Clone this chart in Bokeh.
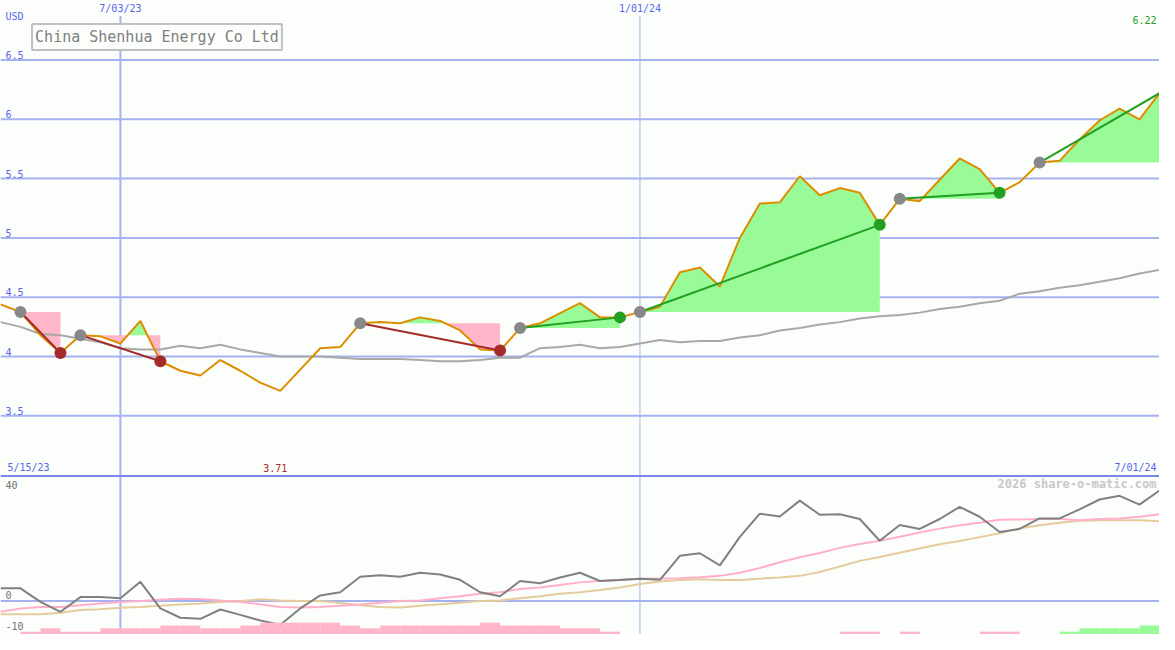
import numpy as np
from bokeh.plotting import figure
from bokeh.models import Range1d, Span, Label, ColumnDataSource
from bokeh.embed import file_html
from bokeh.resources import INLINE

# ---------------- data ----------------
title = "China Shenhua Energy Co Ltd"
currency = "USD"
first_week = "2023-05-22"
n_weeks = 59

price = [4.44, 4.375, 4.18, 4.03, 4.18, 4.17, 4.11, 4.30, 3.96, 3.88,
         3.84, 3.97, 3.88, 3.78, 3.71, 3.89, 4.07, 4.08, 4.28, 4.29,
         4.28, 4.33, 4.30, 4.22, 4.06, 4.05, 4.24, 4.28, 4.365, 4.45,
         4.33, 4.33, 4.375, 4.42, 4.71, 4.75, 4.59, 5.00, 5.29, 5.30,
         5.52, 5.36, 5.42, 5.38, 5.11, 5.33, 5.31, 5.49, 5.67, 5.58,
         5.38, 5.47, 5.635, 5.65, 5.83, 5.99, 6.09, 6.00, 6.22]

moving_avg = [4.29, 4.25, 4.19, 4.18, 4.15, 4.12, 4.07, 4.06, 4.06, 4.09,
              4.07, 4.10, 4.06, 4.03, 4.00, 4.00, 4.00, 3.99, 3.98, 3.98,
              3.98, 3.97, 3.96, 3.96, 3.97, 3.99, 3.99, 4.07, 4.08, 4.10,
              4.07, 4.08, 4.11, 4.14, 4.12, 4.13, 4.13, 4.16, 4.18, 4.22,
              4.24, 4.27, 4.29, 4.32, 4.34, 4.35, 4.37, 4.40, 4.42, 4.45,
              4.47, 4.53, 4.55, 4.58, 4.60, 4.63, 4.66, 4.70, 4.73]

ind_gray = [4.5, 4.5, -0.3, -3.8, 1.4, 1.4, 1.0, 6.8, -2.6, -5.9,
            -6.3, -3.0, -4.9, -6.9, -8.4, -2.6, 2.0, 3.1, 8.6, 9.1,
            8.6, 10.0, 9.4, 7.5, 3.1, 1.7, 7.1, 6.3, 8.3, 10.0,
            7.1, 7.4, 7.9, 7.5, 16.0, 16.9, 12.6, 22.7, 30.9, 29.9,
            35.5, 30.5, 30.7, 29.0, 21.3, 26.9, 25.5, 29.0, 33.3, 29.8,
            24.4, 25.5, 29.2, 29.2, 32.4, 35.9, 37.2, 34.1, 39.1]

ind_pink = [-3.8, -2.6, -2.1, -2.1, -1.5, -0.9, -0.3, 0.0, 0.5, 0.8,
            0.7, 0.2, -0.3, -1.1, -2.1, -2.3, -2.1, -1.7, -1.2, -0.6,
            0.0, 0.2, 1.0, 1.7, 2.6, 3.1, 4.3, 4.8, 5.7, 6.6,
            7.1, 7.5, 7.9, 8.0, 8.1, 8.4, 8.9, 10.0, 11.7, 13.7,
            15.5, 17.0, 18.8, 20.2, 21.3, 22.7, 24.2, 25.6, 26.8, 27.7,
            28.7, 28.8, 29.0, 29.0, 28.6, 29.0, 29.2, 29.8, 30.7]

ind_tan = [-4.7, -4.7, -4.7, -4.1, -3.2, -2.9, -2.4, -2.1, -1.7, -1.2,
           -0.9, -0.3, 0.0, 0.6, 0.2, 0.0, 0.0, -0.7, -1.5, -2.1,
           -2.3, -1.7, -1.1, -0.6, 0.0, 0.2, 1.0, 1.7, 2.6, 3.1,
           3.9, 4.8, 6.0, 6.9, 7.4, 7.7, 7.4, 7.4, 7.9, 8.3,
           8.9, 10.3, 12.2, 14.2, 15.6, 17.1, 18.6, 20.1, 21.2, 22.6,
           24.0, 25.7, 26.8, 27.7, 28.4, 28.6, 28.6, 28.6, 28.2]

# weekly histogram (between week k and k+1), negative = pink, positive = green
hist = [0, -1, -2.2, -1, -1, -2.2, -2.2, -2.2, -3.2, -3.2,
        -2.2, -2.2, -3.2, -4.2, -4.2, -4.2, -4.2, -3.2, -2.2, -3.2,
        -3.2, -3.2, -3.2, -3.2, -4.2, -3.2, -3.2, -3.2, -2.2, -2.2,
        -1, 0, 0, 0, 0, 0, 0, 0, 0, 0,
        0, 0, -1, -1, 0, -1, 0, 0, 0, -1,
        -1, 0, 0, 1, 2.2, 2.2, 2.2, 3.2]

seg_start = [1, 4, 18, 26, 32, 45, 52]
seg_end = [3, 8, 25, 31, 44, 50, 58]
seg_dir = ["down", "down", "down", "up", "up", "up", "up"]

price_ticks = [3.5, 4.0, 4.5, 5.0, 5.5, 6.0, 6.5]
ind_ticks = [40, 0, -10]
date_marks = ["2023-07-03", "2024-01-01"]
date_mark_labels = ["7/03/23", "1/01/24"]
range_labels = ["5/15/23", "7/01/24"]
credit = "2026 share-o-matic.com"

# ---------------- styling ----------------
W, H = 1159, 634
SX, SY = W / 1175.0, H / 650.0
BG = "#FCFEFC"
BLUE_TXT = "#5566EE"
GRID = "#A6B2F0"
SEP = "#7888EE"
ORANGE = "#DD8E00"
RED = "#A52A2A"
GREEN = "#22A022"
PINK_FILL = "#FFB6C8"
GREEN_FILL = "#98FB98"
MONO = "DejaVu Sans Mono"

WEEK_MS = 7 * 86400000.0
t0 = float(np.datetime64(first_week, "ms").astype(np.int64))
k = np.arange(n_weeks, dtype=float)
xs = t0 + k * WEEK_MS


def kx(kk):
    return t0 + np.asarray(kk, dtype=float) * WEEK_MS


def dms(s):
    return float(np.datetime64(s, "ms").astype(np.int64))


# price axis: 121.6 ref px per 1 USD, 4.0 at ref y=365
PPU = 121.6
y_top = 4.0 + 365 / PPU
y_bot = 4.0 - (650 - 365) / PPU
# indicator axis: 0 at ref y=615.7, 2.9 px per unit
IPU = 2.9
i_bot = -(650 - 615.7) / IPU
i_top = 615.7 / IPU

p = figure(width=W, height=H,
           x_range=Range1d(xs[0], xs[-1]),
           y_range=Range1d(y_bot, y_top),
           x_axis_location=None, y_axis_location=None,
           toolbar_location=None, output_backend="svg",
           min_border=0, background_fill_color=BG, border_fill_color=BG,
           outline_line_color=None)
p.extra_y_ranges = {"ind": Range1d(i_bot, i_top)}
p.xgrid.visible = False
p.ygrid.visible = False


def rx(px):
    return px * SX


def ry(py):
    return (650 - py) * SY


# grid lines
for v in price_ticks:
    p.add_layout(Span(location=v, dimension="width", line_color=GRID,
                      line_width=2, level="underlay"))
p.add_layout(Span(location=0, dimension="width", line_color=GRID,
                  line_width=2, level="underlay", y_range_name="ind"))
# separator between panels
p.add_layout(Span(location=3.0 - 1.0 / PPU, dimension="width", line_color=SEP,
                  line_width=2, level="underlay"))
# vertical date lines
line_top = y_top - 16 / PPU
for d, lw in zip(date_marks, [2, 1]):
    p.segment(x0=[dms(d)], x1=[dms(d)], y0=[y_bot], y1=[line_top],
              line_color=GRID, line_width=lw, level="underlay")

# ---------------- fills of signal segments ----------------
pr = np.array(price)
for s, e, dr in zip(seg_start, seg_end, seg_dir):
    lvl = pr[s]
    fx, fy = [], []
    for i in range(s, e + 1):
        if i > s:
            a, b = pr[i - 1] - lvl, pr[i] - lvl
            if a * b < 0:
                t = a / (a - b)
                fx.append(i - 1 + t)
                fy.append(lvl)
        fx.append(i)
        fy.append(pr[i])
    fx = kx(fx)
    fy = np.array(fy)
    lv = np.full_like(fy, lvl)
    src = ColumnDataSource(dict(x=fx, lv=lv, up=np.maximum(fy, lvl), dn=np.minimum(fy, lvl)))
    p.varea(x="x", y1="lv", y2="up", source=src, fill_color=GREEN_FILL)
    p.varea(x="x", y1="dn", y2="lv", source=src, fill_color=PINK_FILL)

# moving average
p.line(xs, moving_avg, line_color="#A8A8A8", line_width=2)

# price
p.line(xs, price, line_color=ORANGE, line_width=2)

# trend lines and dots
for s, e, dr in zip(seg_start, seg_end, seg_dir):
    c = RED if dr == "down" else GREEN
    p.line(kx([s, e]), [pr[s], pr[e]], line_color=c, line_width=2)
for s, e, dr in zip(seg_start, seg_end, seg_dir):
    c = RED if dr == "down" else GREEN
    p.scatter(kx([s]), [pr[s]], size=12, fill_color="#888888", line_color=None)
    if e < n_weeks - 1:
        p.scatter(kx([e]), [pr[e]], size=12, fill_color=c, line_color=None)

# ---------------- indicator panel ----------------
p.line(xs, ind_tan, line_color="#E6CC9C", line_width=2, y_range_name="ind")
p.line(xs, ind_pink, line_color="#FFB0C8", line_width=2, y_range_name="ind")
p.line(xs, ind_gray, line_color="#808080", line_width=2, y_range_name="ind")

h = np.array(hist, dtype=float)
mid = xs[:-1] + WEEK_MS / 2
mask = h != 0
bsrc = ColumnDataSource(dict(
    x=mid[mask], top=i_bot + np.abs(h[mask]), bottom=np.full(mask.sum(), i_bot),
    color=[GREEN_FILL if v > 0 else PINK_FILL for v in h[mask]]))
p.vbar(x="x", width=WEEK_MS, top="top", bottom="bottom", fill_color="color",
       line_color=None, source=bsrc, y_range_name="ind")

# ---------------- labels ----------------
def lab(text, x, y, color=BLUE_TXT, size="10px", align="left", baseline="middle",
        x_units="screen", y_units="screen", **kw):
    p.add_layout(Label(text=text, x=x, y=y, x_units=x_units, y_units=y_units,
                       text_color=color, text_font_size=size, text_font=MONO,
                       text_align=align, text_baseline=baseline, **kw))


lab(currency, rx(5), ry(16))
for v in price_ticks:
    lab("%g" % v, rx(5), v, y_units="data", baseline="bottom", y_offset=1)
for d, t in zip(date_marks, date_mark_labels):
    lab(t, dms(d), ry(8), x_units="data", align="center")
lab(range_labels[0], rx(7), ry(479))
lab(range_labels[1], rx(1172), ry(479), align="right")
imin = int(np.argmin(pr))
lab("%.2f" % pr[imin], kx(imin), ry(479), color=RED, align="center", x_units="data",
    x_offset=-5)
lab("%.2f" % pr[-1], rx(1172), ry(20), color=GREEN, align="right")
lab(credit, rx(1172), ry(496), color="#C8C8C8", size="12px", align="right",
    text_font_style="bold")
for v, off in zip(ind_ticks, [3, 6, 3]):
    lab("%g" % v, rx(5), v, color="#707070", y_units="data", y_range_name="ind",
        y_offset=off)

p.add_layout(Label(text=title, x=rx(32), y=ry(24), x_units="screen", y_units="screen",
                   text_color="#808080", text_font_size="15px", text_font=MONO,
                   text_align="left", text_baseline="top",
                   background_fill_color=BG, border_line_color="#C0C0C0",
                   border_line_width=2, padding=(3, 4)))

open("out.html", "w").write(file_html(p, INLINE))
